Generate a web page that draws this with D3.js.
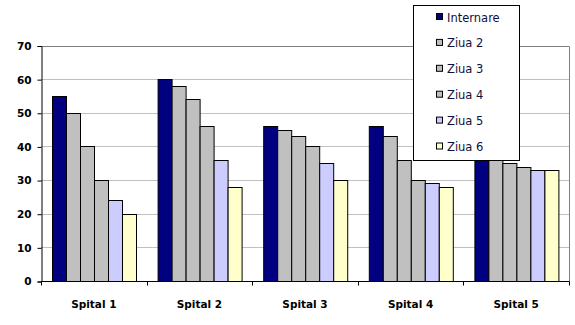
<!DOCTYPE html>
<html>
<head>
<meta charset="utf-8">
<script src="https://cdn.jsdelivr.net/npm/d3@7"></script>
<style>
  html, body { margin: 0; padding: 0; background: #fff; }
  svg { display: block; }
</style>
</head>
<body>
<svg id="chart" width="575" height="325"></svg>
<script>
// Hospitals along the x axis
const categories = ["Spital 1", "Spital 2", "Spital 3", "Spital 4", "Spital 5"];
// One series per day
const seriesNames = ["Internare", "Ziua 2", "Ziua 3", "Ziua 4", "Ziua 5", "Ziua 6"];
const internare = [55, 60, 46, 46, 40];
const ziua2 = [50, 58, 45, 43, 37];
const ziua3 = [40, 54, 43, 36, 35];
const ziua4 = [30, 46, 40, 30, 34];
const ziua5 = [24, 36, 35, 29, 33];
const ziua6 = [20, 28, 30, 28, 33];
const yTicks = [0, 10, 20, 30, 40, 50, 60, 70];
const colors = ["#000080", "#c0c0c0", "#c0c0c0", "#c0c0c0", "#ccccff", "#ffffcc"];

const seriesValues = [internare, ziua2, ziua3, ziua4, ziua5, ziua6];

const svg = d3.select("#chart");
const plot = { left: 41, right: 569, top: 45.5, bottom: 281 };

const x = d3.scaleBand().domain(categories).range([plot.left, plot.right]).padding(0);
const bw = x.bandwidth();
const xs = d3.scaleBand().domain(seriesNames).range([bw * 0.1, bw * 0.9]).padding(0);
const y = d3.scaleLinear().domain([0, 70]).range([plot.bottom, plot.top]);

// horizontal gridlines
svg.append("g").selectAll("line").data(yTicks.filter(t => t > 0 && t < 70)).join("line")
  .attr("x1", plot.left).attr("x2", plot.right)
  .attr("y1", d => Math.round(y(d)) + 0.5).attr("y2", d => Math.round(y(d)) + 0.5)
  .attr("stroke", "#c0c0c0").attr("stroke-width", 1);

// plot area frame (top and right)
svg.append("path")
  .attr("d", `M${plot.left},${Math.round(plot.top) + 0.5}H${plot.right + 0.5}V${plot.bottom}`)
  .attr("fill", "none").attr("stroke", "#808080").attr("stroke-width", 1);

// bars
const groups = svg.append("g").selectAll("g").data(categories).join("g")
  .attr("transform", d => `translate(${x(d)},0)`);
groups.selectAll("rect")
  .data((c, ci) => seriesNames.map((s, si) => ({ s, si, v: seriesValues[si][ci] })))
  .join("rect")
  .attr("x", d => Math.round(xs(d.s)) + 0.5)
  .attr("width", Math.round(xs.bandwidth()))
  .attr("y", d => Math.round(y(d.v)) + 0.5)
  .attr("height", d => Math.round(y(0)) - Math.round(y(d.v)))
  .attr("fill", d => colors[d.si])
  .attr("stroke", "#000").attr("stroke-width", 1);

// y axis
const yAxis = svg.append("g")
  .attr("transform", `translate(${plot.left + 0.5},0.5)`)
  .call(d3.axisLeft(y).tickValues(yTicks).tickSize(4).tickPadding(6).tickFormat(d3.format("d")));
yAxis.select(".domain").attr("stroke", "#000");
yAxis.selectAll(".tick line").attr("stroke", "#000");
yAxis.selectAll("text")
  .attr("font-family", "DejaVu Sans, sans-serif").attr("font-weight", "bold")
  .attr("font-size", "10.5px").attr("fill", "#000");

// x axis with ticks at category boundaries
const xAxisG = svg.append("g").attr("transform", `translate(0,${Math.round(plot.bottom) + 0.5})`);
xAxisG.append("line").attr("x1", plot.left).attr("x2", plot.right + 0.5)
  .attr("stroke", "#000");
xAxisG.selectAll(".bt").data(categories.concat(["end"])).join("line")
  .attr("class", "bt")
  .attr("x1", (d, i) => Math.round(plot.left + i * bw) + 0.5)
  .attr("x2", (d, i) => Math.round(plot.left + i * bw) + 0.5)
  .attr("y1", 0).attr("y2", 4).attr("stroke", "#000");
xAxisG.selectAll("text").data(categories).join("text")
  .attr("x", d => x(d) + bw / 2).attr("y", 26)
  .attr("text-anchor", "middle")
  .attr("font-family", "DejaVu Sans, sans-serif").attr("font-weight", "bold")
  .attr("font-size", "10.5px").attr("fill", "#000")
  .text(d => d);

// legend
const legend = svg.append("g");
legend.append("rect")
  .attr("x", 413.5).attr("y", 5.5).attr("width", 106).attr("height", 155)
  .attr("fill", "#fff").attr("stroke", "#000").attr("stroke-width", 1);
const items = legend.selectAll("g.item").data(seriesNames).join("g")
  .attr("class", "item")
  .attr("transform", (d, i) => `translate(0,${17 + i * 25.9})`);
items.append("rect")
  .attr("x", 436.5).attr("y", -3.5).attr("width", 6).attr("height", 6)
  .attr("fill", (d, i) => colors[i]).attr("stroke", "#000").attr("stroke-width", 1);
items.append("text")
  .attr("x", 447).attr("y", 4.5)
  .attr("font-family", "DejaVu Sans, sans-serif").attr("font-size", "11.5px")
  .attr("fill", "#10103a")
  .text(d => d);
</script>
</body>
</html>
